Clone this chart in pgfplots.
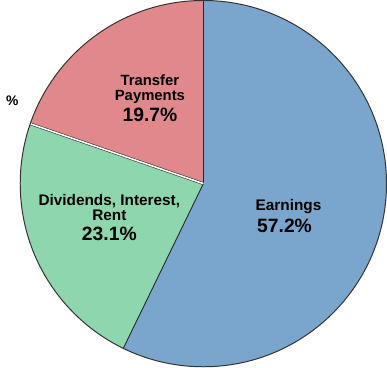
\documentclass[border=0pt]{standalone}
\usepackage{fontspec}
\setmainfont{Liberation Sans}
\usepackage{pgfplots}
\usepackage{pgfplotstable}
\pgfplotsset{compat=1.18}
\definecolor{cblue}{RGB}{122,166,206}
\definecolor{cgreen}{RGB}{141,214,174}
\definecolor{cpink}{RGB}{225,136,141}
\pgfplotstableread{
name share
Earnings 57.2
Dividends 23.1
Transfer 19.7
}\piedata
\pgfplotstablegetelem{0}{share}\of\piedata \let\sA\pgfplotsretval
\pgfplotstablegetelem{1}{share}\of\piedata \let\sB\pgfplotsretval
\pgfplotstablegetelem{2}{share}\of\piedata \let\sC\pgfplotsretval
\pgfmathsetmacro{\aA}{90-3.6*\sA}
\pgfmathsetmacro{\aB}{\aA-3.6*\sB}
\pgfmathsetmacro{\aC}{\aB-3.6*\sC}
\begin{document}
\begin{tikzpicture}
\begin{axis}[hide axis, scale only axis, width=387pt, height=383pt,
  xmin=-201, xmax=186, ymin=-192, ymax=191, clip=false]
\fill[cblue] (axis cs:0,0) -- ++(90:185pt) arc[start angle=90, end angle=\aA, radius=185pt] -- cycle;
\fill[cgreen] (axis cs:0,0) -- ++(\aA:185pt) arc[start angle=\aA, end angle=\aB, radius=185pt] -- cycle;
\fill[cpink] (axis cs:0,0) -- ++(\aB:185pt) arc[start angle=\aB, end angle=\aC, radius=185pt] -- cycle;
\draw[black!85, line width=0.9pt] (axis cs:0,0) -- ++(90:185pt);
\draw[black!85, line width=0.9pt] (axis cs:0,0) -- ++(\aA:185pt);
\draw[black!80, line width=0.6pt, double=white, double distance=1.6pt] (axis cs:0,0) -- ++(\aB:185pt);
\draw[black!80, line width=1pt] (axis cs:0,0) circle[radius=185pt];
\begin{scope}[every node/.style={font=\bfseries, inner sep=0pt, anchor=base}]
\node[font=\fontsize{15}{15}\bfseries] at (axis cs:-54,99) {Transfer};
\node[font=\fontsize{15}{15}\bfseries] at (axis cs:-54,84) {Payments};
\node[font=\fontsize{19.5}{20}\bfseries] at (axis cs:-54,63) {19.7\%};
\node[font=\fontsize{15.5}{16}\bfseries] at (axis cs:-95,-22) {Dividends, Interest,};
\node[font=\fontsize{15.5}{16}\bfseries] at (axis cs:-95,-37) {Rent};
\node[font=\fontsize{19.5}{20}\bfseries] at (axis cs:-95,-57) {23.1\%};
\node[font=\fontsize{15.5}{16}\bfseries] at (axis cs:86,-27) {Earnings};
\node[font=\fontsize{19.5}{20}\bfseries] at (axis cs:82,-49) {57.2\%};
\node[font=\fontsize{14}{14}\bfseries] at (axis cs:-193,79) {\%};
\end{scope}
\end{axis}
\end{tikzpicture}
\end{document}
